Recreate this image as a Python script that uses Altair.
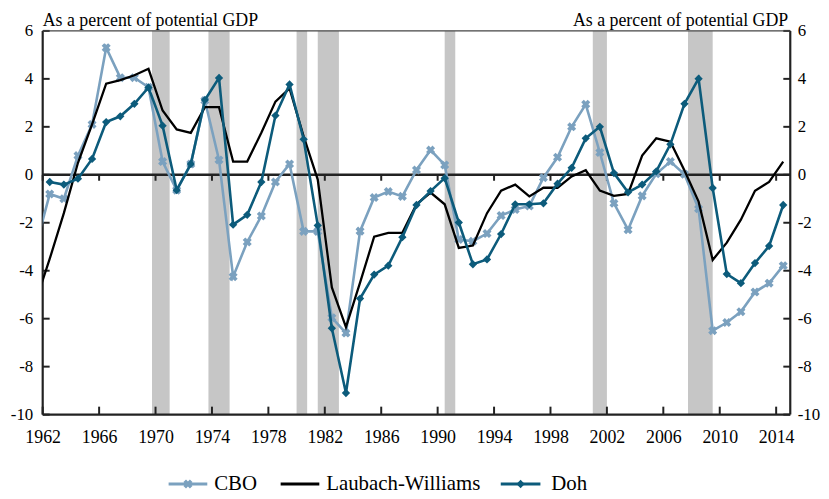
import altair as alt
import pandas as pd

# ---------------- data ----------------
years = list(range(1961, 2015))
cbo = [-3.0, -0.8, -1.0, 0.8, 2.1, 5.3, 4.05, 4.05, 3.65, 0.55,
       -0.64, 0.45, 3.1, 0.62, -4.25, -2.8, -1.72, -0.3, 0.45, -2.36,
       -2.36, -5.96, -6.6, -2.35, -0.95, -0.7, -0.9, 0.2, 1.03, 0.41,
       -2.7, -2.77, -2.45, -1.7, -1.45, -1.3, -0.12, 0.73, 2.0, 2.94,
       0.93, -1.19, -2.29, -0.88, 0.04, 0.55, 0.02, -1.42, -6.5, -6.16,
       -5.71, -4.89, -4.52, -3.79]
lw = [-5.3, -3.5, -1.6, 0.5, 2.1, 3.8, 3.95, 4.15, 4.42, 2.68,
      1.89, 1.75, 2.82, 2.82, 0.55, 0.55, 1.75, 3.05, 3.6, 1.6,
      -0.2, -4.7, -6.35, -4.5, -2.58, -2.42, -2.42, -1.23, -0.74, -1.23,
      -3.05, -2.95, -1.6, -0.66, -0.41, -0.9, -0.54, -0.54, -0.07, 0.19,
      -0.66, -0.88, -0.8, 0.8, 1.52, 1.38, 0.18, -1.12, -3.55, -2.83,
      -1.87, -0.67, -0.3, 0.55]
doh_years = list(range(1962, 2015))
doh = [-0.3, -0.41, -0.16, 0.66, 2.2, 2.44, 2.96, 3.64, 2.05, -0.64,
       0.45, 3.12, 4.04, -2.08, -1.67, -0.3, 2.47, 3.77, 1.48, -2.11,
       -6.4, -9.1, -5.16, -4.16, -3.79, -2.6, -1.26, -0.68, -0.14, -1.99,
       -3.73, -3.53, -2.47, -1.23, -1.23, -1.19, -0.37, 0.29, 1.52, 2.0,
       0.07, -0.73, -0.41, 0.14, 1.27, 2.96, 4.01, -0.55, -4.14, -4.52,
       -3.68, -2.97, -1.26]

rec_start = [1969.75, 1973.75, 1980.0, 1981.5, 1990.5, 2001.0, 2007.75]
rec_end = [1971.0, 1975.25, 1980.75, 1983.0, 1991.25, 2002.0, 2009.5]

x_ticks = list(range(1962, 2015, 4))
y_ticks = list(range(-10, 7, 2))
title_text = "As a percent of potential GDP"
legend_labels = ["CBO", "Laubach-Williams", "Doh"]

# ---------------- styling ----------------
FONT = "Liberation Serif"
W, H = 754, 387
PAD_TOP = 21
ZERO_PX = H * 6 / 16
C_CBO = "#7ba1bf"
C_LW = "#000000"
C_DOH = "#0c5b7b"
C_REC = "#c6c6c6"
C_AX = "#222222"

xs = alt.Scale(domain=[1962, 2015], nice=False, zero=False)
ys = alt.Scale(domain=[-10, 6], nice=False, zero=False)

cbo_df = pd.DataFrame({"pos": [y + 0.5 for y in years], "v": cbo})
lw_df = pd.DataFrame({"pos": [y + 0.5 for y in years], "v": lw})
doh_df = pd.DataFrame({"pos": [y + 0.5 for y in doh_years], "v": doh})
rec_df = pd.DataFrame({"s": rec_start, "e": rec_end})
xt_df = pd.DataFrame({"t": x_ticks})
yt_df = pd.DataFrame({"t": y_ticks})
dummy = pd.DataFrame({"a": [0]})

lab = dict(labelFont=FONT, labelColor="black", labelFlush=False, labelOverlap=False,
           labelBound=False, ticks=False, domain=False, grid=False, title=None,
           labelExpr="datum.value + ''")

rec = alt.Chart(rec_df).mark_rect(color=C_REC).encode(
    x=alt.X("s:Q", scale=xs, axis=alt.Axis(values=x_ticks, labelPadding=14,
                                           labelFontSize=18, **lab)),
    x2="e:Q",
    y=alt.value(0), y2=alt.value(H),
)

zero = alt.Chart(dummy).mark_rule(color=C_AX, strokeWidth=2.5).encode(
    y=alt.Y("a:Q", scale=ys, axis=None))

zero_ticks = alt.Chart(xt_df).mark_rule(color=C_AX, strokeWidth=2).encode(
    x=alt.X("t:Q", scale=xs, axis=None),
    y=alt.value(ZERO_PX), y2=alt.value(ZERO_PX + 6))

bottom_ticks = alt.Chart(xt_df).mark_rule(color=C_AX, strokeWidth=2).encode(
    x=alt.X("t:Q", scale=xs, axis=None),
    y=alt.value(H - 8), y2=alt.value(H))

left_ticks = alt.Chart(yt_df).mark_rule(color=C_AX, strokeWidth=2).encode(
    y=alt.Y("t:Q", scale=ys, axis=alt.Axis(orient="left", values=y_ticks, labelPadding=10,
                                           labelFontSize=17, **lab)),
    x=alt.value(0), x2=alt.value(7))

right_ticks = alt.Chart(yt_df).mark_rule(color=C_AX, strokeWidth=2).encode(
    y=alt.Y("t:Q", scale=ys, axis=alt.Axis(orient="right", values=y_ticks, labelPadding=7,
                                           labelFontSize=17, **lab)),
    x=alt.value(W - 7), x2=alt.value(W))

frame = [
    alt.Chart(dummy).mark_rule(color=C_AX, strokeWidth=2.2).encode(x=alt.value(0), y=alt.value(0), y2=alt.value(H)),
    alt.Chart(dummy).mark_rule(color=C_AX, strokeWidth=2.2).encode(x=alt.value(W), y=alt.value(0), y2=alt.value(H)),
    alt.Chart(dummy).mark_rule(color=C_AX, strokeWidth=2.2).encode(x=alt.value(0), x2=alt.value(W), y=alt.value(H)),
    alt.Chart(dummy).mark_rule(color="#444444", strokeWidth=1.2).encode(x=alt.value(0), x2=alt.value(W), y=alt.value(0)),
]


def series(df, color, width, shape=None, size=0, angle=0):
    enc = dict(x=alt.X("pos:Q", scale=xs, axis=None), y=alt.Y("v:Q", scale=ys, axis=None))
    line = alt.Chart(df).mark_line(color=color, strokeWidth=width, clip=True).encode(**enc)
    if shape is None:
        return [line]
    pts = alt.Chart(df).mark_point(shape=shape, size=size, angle=angle, filled=True,
                                   color=color, opacity=1, clip=True).encode(**enc)
    return [line, pts]


cbo_l = series(cbo_df, C_CBO, 2.6, "cross", 85, 45)
lw_l = series(lw_df, C_LW, 2.3)
doh_l = series(doh_df, C_DOH, 2.6, "diamond", 70)

TY = -4.5
titles = [
    alt.Chart(dummy).mark_text(text=title_text, font=FONT, fontSize=18, align="left",
                               baseline="alphabetic", color="black").encode(x=alt.value(0), y=alt.value(TY)),
    alt.Chart(dummy).mark_text(text=title_text, font=FONT, fontSize=18, align="right",
                               baseline="alphabetic", color="black").encode(x=alt.value(W - 2), y=alt.value(TY)),
]

LY = 457
legend = []
leg_specs = [
    (legend_labels[0], C_CBO, 127, 166, "cross", 85, 45, 173),
    (legend_labels[1], C_LW, 240, 279, None, 0, 0, 286),
    (legend_labels[2], C_DOH, 462, 502, "diamond", 70, 0, 513),
]
for text, color, x0, x1, shape, size, angle, tx in leg_specs:
    legend.append(alt.Chart(dummy).mark_rule(color=color, strokeWidth=3).encode(
        x=alt.value(x0), x2=alt.value(x1), y=alt.value(LY)))
    if shape:
        legend.append(alt.Chart(dummy).mark_point(shape=shape, size=size, angle=angle, filled=True,
                                                  color=color, opacity=1).encode(
            x=alt.value((x0 + x1) / 2), y=alt.value(LY)))
    legend.append(alt.Chart(pd.DataFrame({"label": [text]})).mark_text(
        font=FONT, fontSize=21, align="left", baseline="middle", color="black").encode(
        text="label:N", x=alt.value(tx), y=alt.value(LY)))

chart = alt.layer(
    rec, zero, zero_ticks, bottom_ticks, left_ticks, right_ticks, *frame,
    *cbo_l, *lw_l, *doh_l, *titles, *legend
).resolve_axis(x="independent", y="independent").properties(
    width=W, height=H,
    autosize=alt.AutoSizeParams(type="none"),
    padding={"left": 35, "top": PAD_TOP, "right": 31, "bottom": 80},
).configure_view(stroke=None)

chart.save("out.html", embed_options={"renderer": "svg", "actions": False})
